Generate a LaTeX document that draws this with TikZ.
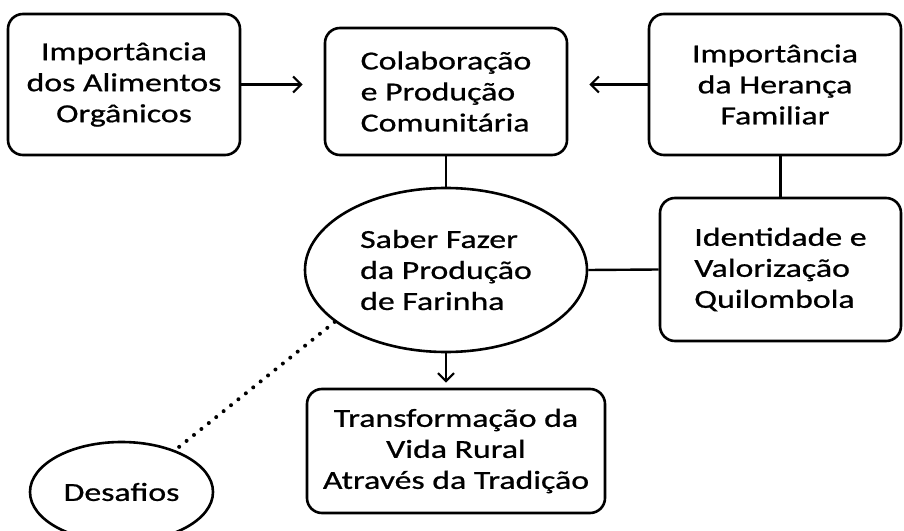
\documentclass[tikz,border=0pt]{standalone}
\usepackage{fontspec}
\setmainfont{Carlito}[FakeStretch=1.3, FakeBold=0.8]
\usepackage{tikz}
\usetikzlibrary{shapes.geometric}
\usetikzlibrary{arrows.meta}
\newcommand{\sizetext}{\fontsize{26bp}{31bp}\selectfont}
\newcommand{\heightbox}{141bp}
\newcommand{\gaparrow}{21bp}
\tikzset{
    common/.style={draw, line width=2.6bp, font=\sizetext, inner sep=4bp},
    box/.style={common, rectangle, rounded corners=15bp, minimum height=\heightbox},
    bubble/.style={common, ellipse},
    link/.style={line width=2.4bp},
    push/.style={link, -{Straight Barb[length=8bp, width=16bp, line width=2.2bp]}, shorten >=#1},
    push/.default=0bp,
    hint/.style={line width=4bp, line cap=round, dash pattern=on 0bp off 9.5bp}
}

\begin{document}
\begin{tikzpicture}[x=1bp, y=-1bp]
    \useasboundingbox (0,0) rectangle (904,531);

    \node[box, minimum width=232bp, align=center] (organicos) at (124,84.5) {Importância\\dos Alimentos\\Orgânicos};
    \node[box, minimum width=242bp, minimum height=127bp, align=left] (colaboracao) at (446,91.5) {Colaboração\\e Produção\\Comunitária};
    \node[box, minimum width=252bp, align=center] (heranca) at (775,84.5) {Importância\\da Herança\\Familiar};
    \node[bubble, minimum width=282bp, minimum height=164bp, align=left] (saber) at (446,270) {Saber Fazer\\da Produção\\de Farinha};
    \node[box, minimum width=241bp, minimum height=143bp, align=left] (identidade) at (780.5,269.5) {Identidade e\\Valorização\\Quilombola};
    \node[box, minimum width=298bp, minimum height=124bp, align=center] (transformacao) at (456,451) {Transformação da\\Vida Rural\\Através da Tradição};
    \node[bubble, minimum width=183bp, minimum height=100bp] (desafios) at (121.5,492) {Desafios};

    \draw[push=\gaparrow] (organicos.east) -- (organicos.east -| colaboracao.west);
    \draw[push=\gaparrow] (heranca.west) -- (heranca.west -| colaboracao.east);
    \draw[link] (colaboracao.south) -- (saber.north);
    \draw[link] (identidade.north) -- (identidade.north |- heranca.south);
    \draw[link] (saber.east) -- (identidade.west);
    \draw[push=5bp] (saber.south) -- (saber.south |- transformacao.north);
    \draw[hint] (saber.205) -- (desafios.38);
\end{tikzpicture}
\end{document}
